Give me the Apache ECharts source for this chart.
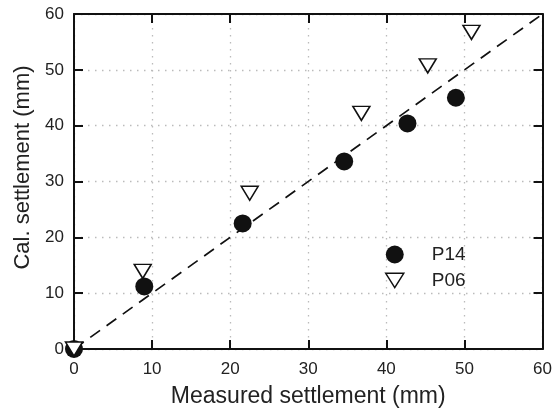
<!DOCTYPE html>
<html>
<head>
    <meta charset="utf-8">
    <title>Measured vs calculated settlement</title>
    <script src="https://cdn.jsdelivr.net/npm/echarts@6.0.0/dist/echarts.min.js"></script>
    <style>
        html, body { margin: 0; padding: 0; background: #fff; }
        #main { width: 555px; height: 414px; }
    </style>
</head>
<body>
    <div id="main"></div>
    <script>
        var myChart = echarts.init(document.getElementById('main'));

        // 数据：实测 vs 计算沉降 (mm)
        const seriesNames = ['P14', 'P06'];
        const p14Data = [[0, 0], [9.0, 11.2], [21.6, 22.5], [34.6, 33.6], [42.7, 40.4], [48.9, 45.0]];
        const p06Data = [[0, 0], [8.8, 13.9], [22.5, 27.9], [36.8, 42.2], [45.3, 50.7], [50.9, 56.7]];
        const lineData = [[0, 0], [60, 60]];
        const axisMin = 0, axisMax = 60, axisStep = 10;

        const fontFamily = '"Liberation Sans", Arial, sans-serif';
        const downTriangle = 'path://M0,0 L20,0 L10,16 Z';

        function mainAxis(name, gap, isX) {
            return {
                type: 'value',
                min: axisMin, max: axisMax, interval: axisStep,
                name: name,
                nameLocation: 'middle',
                nameGap: gap,
                nameTextStyle: isX
                    ? { fontSize: 23, color: '#222', fontFamily: fontFamily }
                    : { fontSize: 22, color: '#222', fontFamily: fontFamily, padding: [0, 0, 0, 28] },
                axisLine: { show: true, onZero: false, lineStyle: { color: '#111', width: 2 } },
                axisTick: { show: true, inside: true, length: 9, lineStyle: { color: '#111', width: 2 } },
                axisLabel: { fontSize: 17, color: '#222', fontFamily: fontFamily, margin: isX ? 12 : 10 },
                splitLine: { show: true, lineStyle: { color: '#bbb', type: [1.5, 5.5], width: 1.3 } }
            };
        }
        function mirrorAxis(pos) {
            return {
                type: 'value', position: pos,
                min: axisMin, max: axisMax, interval: axisStep,
                axisLine: { show: true, onZero: false, lineStyle: { color: '#111', width: 2 } },
                axisTick: { show: true, inside: true, length: 9, lineStyle: { color: '#111', width: 2 } },
                axisLabel: { show: false },
                splitLine: { show: false }
            };
        }

        const option = {
            backgroundColor: '#fff',
            animation: false,
            grid: { left: 74, right: 10, top: 14, bottom: 65 },
            legend: {
                orient: 'vertical',
                left: 380, top: 240,
                itemWidth: 18, itemHeight: 18, itemGap: 7,
                textStyle: { fontSize: 19, color: '#222', fontFamily: fontFamily, padding: [0, 0, 0, 23] },
                data: [
                    { name: seriesNames[0], icon: 'circle' },
                    { name: seriesNames[1], icon: downTriangle, itemStyle: { color: '#fff', borderColor: '#111', borderWidth: 1.5 } }
                ]
            },
            xAxis: [mainAxis('Measured settlement (mm)', 36, true), mirrorAxis('top')],
            yAxis: [mainAxis('Cal. settlement (mm)', 40, false), mirrorAxis('right')],
            series: [
                {
                    name: 'line', type: 'line', data: lineData,
                    showSymbol: false, symbol: 'none', silent: true,
                    lineStyle: { color: '#111', width: 1.7, type: [12, 8] },
                    z: 1
                },
                {
                    name: seriesNames[0], type: 'scatter', data: p14Data,
                    symbol: 'circle', symbolSize: 18,
                    itemStyle: { color: '#111', opacity: 1 },
                    z: 3
                },
                {
                    name: seriesNames[1], type: 'scatter', data: p06Data,
                    symbol: downTriangle, symbolSize: [17, 14],
                    itemStyle: { color: '#fff', borderColor: '#111', borderWidth: 1.5, opacity: 1 },
                    z: 4
                }
            ]
        };

        myChart.setOption(option);
    </script>
</body>
</html>
